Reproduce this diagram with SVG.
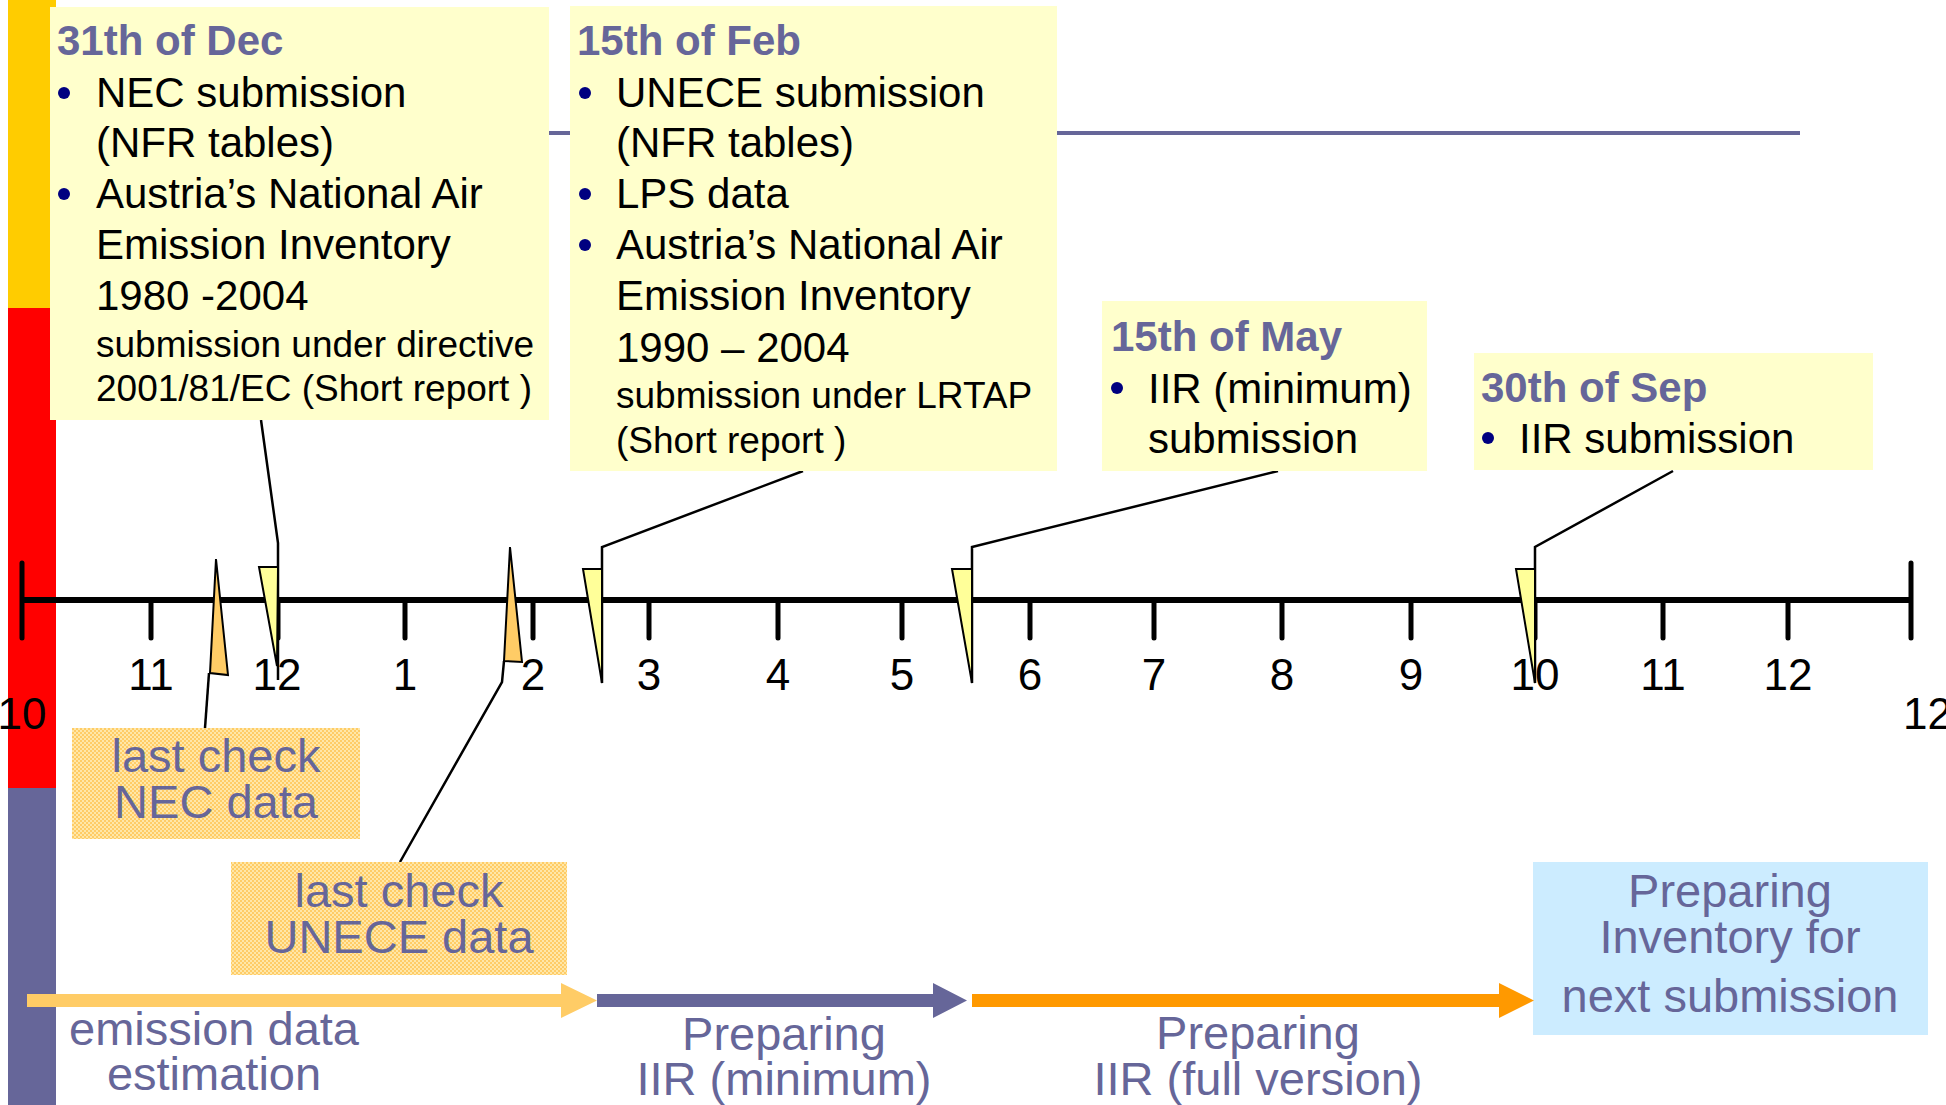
<svg xmlns="http://www.w3.org/2000/svg" width="1946" height="1105" viewBox="0 0 1946 1105">
<style>
text{font-family:"Liberation Sans",Arial,sans-serif}
.title{font-size:42px;font-weight:bold;fill:#666699}
.body{font-size:42px;fill:#000}
.small{font-size:37px;fill:#000}
.lbl{font-size:47px;fill:#666699;text-anchor:middle}
.num{font-size:44px;fill:#000;text-anchor:middle}
.note{fill:#FFFFCC}
.bul{fill:#000080}
.tick{stroke:#000;stroke-width:5;stroke-linecap:round;fill:none}
.cl{stroke:#000;stroke-width:2.5;fill:none}
.tri{fill:#FFFF99;stroke:#000;stroke-width:2}
.otri{fill:#FFCC66;stroke:#000;stroke-width:2}
</style>
<defs>
<pattern id="dots" width="4" height="4" patternUnits="userSpaceOnUse">
<rect width="4" height="4" fill="#FFE7A8"/>
<rect width="2" height="2" fill="#FFCC66"/>
<rect x="2" y="2" width="2" height="2" fill="#FFCC66"/>
</pattern>
</defs>
<rect width="1946" height="1105" fill="#fff"/>
<g id="sidebar">
<rect x="8" y="0" width="48" height="308" fill="#FFCC00"/>
<rect x="8" y="308" width="48" height="480" fill="#FF0000"/>
<rect x="8" y="788" width="48" height="317" fill="#666699"/>
</g>
<line x1="549" y1="133" x2="1800" y2="133" stroke="#666699" stroke-width="4"/>
<g id="axis">
<line x1="22" y1="600" x2="1911" y2="600" stroke="#000" stroke-width="6"/>
<line class="tick" x1="22" y1="563" x2="22" y2="638"/>
<line class="tick" x1="1911" y1="563" x2="1911" y2="638"/>
<g>
<line class="tick" x1="151" y1="600" x2="151" y2="638"/>
<line class="tick" x1="278" y1="600" x2="278" y2="638"/>
<line class="tick" x1="405" y1="600" x2="405" y2="638"/>
<line class="tick" x1="533" y1="600" x2="533" y2="638"/>
<line class="tick" x1="649" y1="600" x2="649" y2="638"/>
<line class="tick" x1="778" y1="600" x2="778" y2="638"/>
<line class="tick" x1="902" y1="600" x2="902" y2="638"/>
<line class="tick" x1="1030" y1="600" x2="1030" y2="638"/>
<line class="tick" x1="1154" y1="600" x2="1154" y2="638"/>
<line class="tick" x1="1282" y1="600" x2="1282" y2="638"/>
<line class="tick" x1="1411" y1="600" x2="1411" y2="638"/>
<line class="tick" x1="1535" y1="600" x2="1535" y2="638"/>
<line class="tick" x1="1663" y1="600" x2="1663" y2="638"/>
<line class="tick" x1="1788" y1="600" x2="1788" y2="638"/>
</g>
<g>
<text class="num" x="22" y="729">10</text>
<text class="num" x="151" y="690">11</text>
<text class="num" x="277" y="690">12</text>
<text class="num" x="405" y="690">1</text>
<text class="num" x="533" y="690">2</text>
<text class="num" x="649" y="690">3</text>
<text class="num" x="778" y="690">4</text>
<text class="num" x="902" y="690">5</text>
<text class="num" x="1030" y="690">6</text>
<text class="num" x="1154" y="690">7</text>
<text class="num" x="1282" y="690">8</text>
<text class="num" x="1411" y="690">9</text>
<text class="num" x="1535" y="690">10</text>
<text class="num" x="1663" y="690">11</text>
<text class="num" x="1788" y="690">12</text>
<text class="num" x="1903" y="729" style="text-anchor:start">12</text>
</g>
</g>
<g id="connectors">
<polyline class="cl" points="261,420 278,543 278,680"/>
<polygon class="tri" points="259,567 278,567 277,666"/>
<polyline class="cl" points="803,471 602,547 602,683"/>
<polygon class="tri" points="583,569 602,569 602,683"/>
<polyline class="cl" points="1278,471 972,547 972,683"/>
<polygon class="tri" points="952,569 972,569 972,683"/>
<polyline class="cl" points="1673,471 1535,547 1535,683"/>
<polygon class="tri" points="1516,569 1535,569 1535,683"/>
<polygon class="otri" points="216,559 210,673 228,675"/>
<polyline class="cl" points="209,673 205,728"/>
<polygon class="otri" points="510,547 504,661 522,662"/>
<polyline class="cl" points="504,661 502,682 400,862"/>
</g>
<g id="dec">
<rect class="note" x="50" y="7" width="499" height="413"/>
<text class="title" x="57" y="55">31th of Dec</text>
<circle class="bul" cx="64" cy="93" r="6"/>
<circle class="bul" cx="64" cy="194" r="6"/>
<text class="body" x="96" y="107">NEC submission</text>
<text class="body" x="96" y="157">(NFR tables)</text>
<text class="body" x="96" y="208">Austria’s National Air</text>
<text class="body" x="96" y="259">Emission Inventory</text>
<text class="body" x="96" y="310">1980 -2004</text>
<text class="small" x="96" y="357">submission under directive</text>
<text class="small" x="96" y="401">2001/81/EC (Short report )</text>
</g>
<g id="feb">
<rect class="note" x="570" y="6" width="487" height="465"/>
<text class="title" x="577" y="55">15th of Feb</text>
<circle class="bul" cx="585" cy="93" r="6"/>
<circle class="bul" cx="585" cy="194" r="6"/>
<circle class="bul" cx="585" cy="245" r="6"/>
<text class="body" x="616" y="107">UNECE submission</text>
<text class="body" x="616" y="157">(NFR tables)</text>
<text class="body" x="616" y="208">LPS data</text>
<text class="body" x="616" y="259">Austria’s National Air</text>
<text class="body" x="616" y="310">Emission Inventory</text>
<text class="body" x="616" y="362">1990 – 2004</text>
<text class="small" x="616" y="408">submission under LRTAP</text>
<text class="small" x="616" y="453">(Short report )</text>
</g>
<g id="may">
<rect class="note" x="1102" y="301" width="325" height="170"/>
<text class="title" x="1111" y="351">15th of May</text>
<circle class="bul" cx="1117" cy="388" r="6"/>
<text class="body" x="1148" y="403">IIR (minimum)</text>
<text class="body" x="1148" y="453">submission</text>
</g>
<g id="sep">
<rect class="note" x="1474" y="353" width="399" height="117"/>
<text class="title" x="1481" y="402">30th of Sep</text>
<circle class="bul" cx="1488" cy="438" r="6"/>
<text class="body" x="1519" y="453">IIR submission</text>
</g>
<g id="check-nec">
<rect x="72" y="728" width="288" height="111" fill="url(#dots)"/>
<text class="lbl" x="216" y="772">last check</text>
<text class="lbl" x="216" y="818">NEC data</text>
</g>
<g id="check-unece">
<rect x="231" y="862" width="336" height="113" fill="url(#dots)"/>
<text class="lbl" x="399" y="907">last check</text>
<text class="lbl" x="399" y="953">UNECE data</text>
</g>
<g id="next">
<rect x="1533" y="862" width="395" height="173" fill="#CCECFF"/>
<text class="lbl" x="1730" y="907">Preparing</text>
<text class="lbl" x="1730" y="953">Inventory for</text>
<text class="lbl" x="1730" y="1012">next submission</text>
</g>
<g id="phases">
<polygon fill="#FFCC66" points="27,994 561,994 561,983 597,1000.5 561,1018 561,1007 27,1007"/>
<polygon fill="#666699" points="597,994 933,994 933,983 967,1000.5 933,1018 933,1007 597,1007"/>
<polygon fill="#FF9900" points="972,994 1499,994 1499,983 1534,1000.5 1499,1018 1499,1007 972,1007"/>
<text class="lbl" x="214" y="1045">emission data</text>
<text class="lbl" x="214" y="1090">estimation</text>
<text class="lbl" x="784" y="1050">Preparing</text>
<text class="lbl" x="784" y="1095">IIR (minimum)</text>
<text class="lbl" x="1258" y="1049">Preparing</text>
<text class="lbl" x="1258" y="1095">IIR (full version)</text>
</g>
</svg>
